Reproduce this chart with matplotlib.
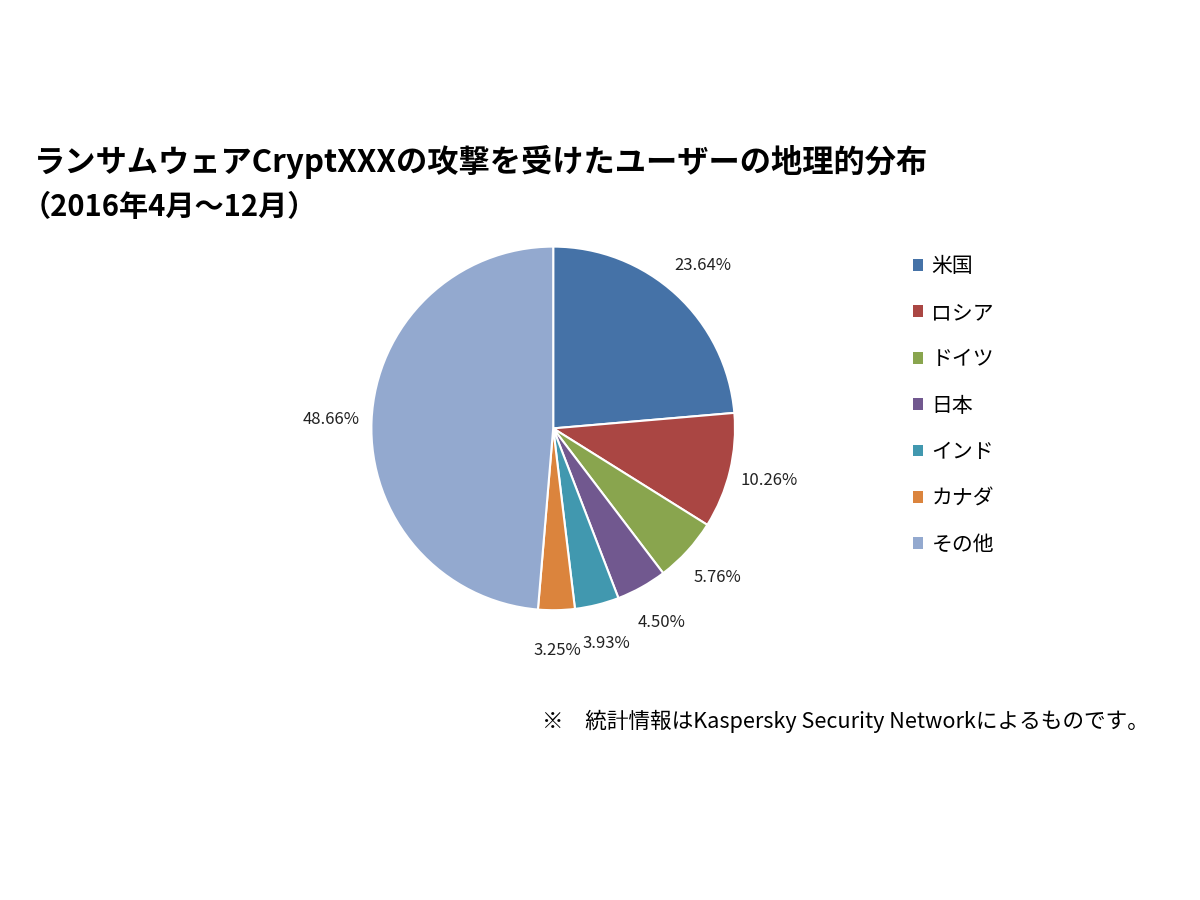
import matplotlib
matplotlib.use('Agg')
import matplotlib.pyplot as plt
from matplotlib.patches import Patch

plt.rcParams['font.family'] = 'Noto Sans CJK JP'

# Data
countries = ["米国", "ロシア", "ドイツ", "日本", "インド", "カナダ", "その他"]
shares = [23.64, 10.26, 5.76, 4.50, 3.93, 3.25, 48.66]
colors = ["#4572A7", "#AA4643", "#89A54E", "#71588F", "#4198AF", "#DB843D", "#93A9CF"]

fig = plt.figure(figsize=(12, 9), dpi=100)
ax = fig.add_axes([0.461 - 0.152, 0.524 - 0.202, 0.304, 0.404])

wedges, texts, autotexts = ax.pie(
    shares, colors=colors, startangle=90, counterclock=False,
    autopct=lambda p: f"{p:.2f}%", pctdistance=1.22,
    wedgeprops=dict(edgecolor="white", linewidth=1.5),
    textprops=dict(fontsize=12, color="#222222"))
ax.set_xlim(-1, 1)
ax.set_ylim(-1, 1)
ax.set_aspect('equal')

fig.text(0.028, 0.82, "ランサムウェアCryptXXXの攻撃を受けたユーザーの地理的分布",
         fontsize=22.5, fontweight='bold', ha='left', va='center')
fig.text(0.018, 0.77, "（2016年4月～12月）", fontsize=21, fontweight='bold',
         ha='left', va='center')

handles = [Patch(facecolor=c, label=n) for c, n in zip(colors, countries)]
fig.legend(handles=handles, loc='upper left', bbox_to_anchor=(0.745, 0.737),
           frameon=False, fontsize=15, handlelength=0.5, handleheight=0.5,
           labelspacing=1.17, handletextpad=0.4)

fig.text(0.452, 0.198, "※　統計情報はKaspersky Security Networkによるものです。",
         fontsize=15.6, ha='left', va='center')

fig.savefig("out.png")
